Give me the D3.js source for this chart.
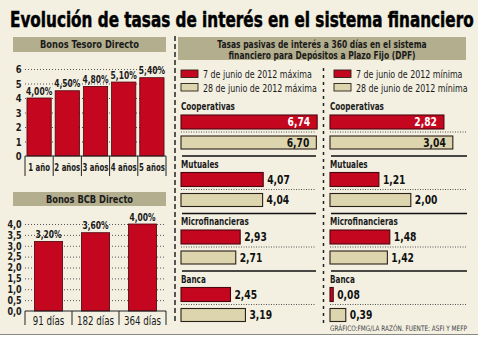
<!DOCTYPE html>
<html>
<head>
<meta charset="utf-8">
<script src="https://cdn.jsdelivr.net/npm/d3@7"></script>
<style>
  html, body { margin: 0; padding: 0; background: #fff; }
  svg { display: block; }
  text { font-family: "DejaVu Sans Condensed", "Liberation Sans Narrow", sans-serif; fill: #1a1a1a; }
</style>
</head>
<body>
<div id="chart-area"></div>
<script>
// Bonos Tesoro Directo
const tesoroPlazos = ["1 año", "2 años", "3 años", "4 años", "5 años"];
const tesoroTasas = [4.00, 4.50, 4.80, 5.10, 5.40];
const tesoroTicks = [0, 1, 2, 3, 4, 5, 6];

// Bonos BCB Directo
const bcbPlazos = ["91 días", "182 días", "364 días"];
const bcbTasas = [3.20, 3.60, 4.00];
const bcbTicks = [0, 0.5, 1, 1.5, 2, 2.5, 3, 3.5, 4];

// Tasas pasivas DPF a 360 días
const entidades = ["Cooperativas", "Mutuales", "Microfinancieras", "Banca"];
const max7jun = [6.74, 4.07, 2.93, 2.45];
const max28jun = [6.70, 4.04, 2.71, 3.19];
const min7jun = [2.82, 1.21, 1.48, 0.08];
const min28jun = [3.04, 2.00, 1.42, 0.39];

const width = 478;
const height = 339;
const rojo = "#c4061f";
const crema = "#ddd5ae";
const banda = "#b3ae8d";
const fondo = "#f3f0e2";

const es = d3.formatLocale({decimal: ",", thousands: ".", grouping: [3], currency: ["", ""]});
const f2 = es.format(".2f");
const f1 = es.format(".1f");

const svg = d3.select('#chart-area')
  .append('svg')
  .attr('width', width)
  .attr('height', height);

// texts are squeezed horizontally to get a condensed face
function tr(x, y, sx) {
  return `translate(${x},${y}) scale(${sx},1)`;
}
function label(g, str, x, y, size, weight, sx, anchor) {
  return g.append('text').text(str)
    .attr('transform', tr(x, y, sx))
    .attr('text-anchor', anchor || 'start')
    .attr('font-size', size + 'px')
    .attr('font-weight', weight);
}

svg.append('rect').attr('width', width).attr('height', 334).attr('fill', fondo);
svg.append('line')
  .attr('x1', 0).attr('x2', width).attr('y1', 334.5).attr('y2', 334.5)
  .attr('stroke', '#8a8a84').attr('stroke-width', 1);

const titulo = label(svg, 'Evolución de tasas de interés en el sistema financiero', 10, 27, 21.5, 'bold', 1)
  .style('fill', '#000')
  .attr('stroke', '#000').attr('stroke-width', 0.5);
titulo.attr('transform', tr(10, 27, 464 / titulo.node().getComputedTextLength()));

// header bands
function header(x, y, w, h, lines, size, sx) {
  svg.append('rect').attr('x', x).attr('y', y).attr('width', w).attr('height', h).attr('fill', banda);
  lines.forEach((l, i) => label(svg, l, x + w / 2, y + 11 + i * 10.5, size, 'bold', sx, 'middle'));
}
header(13, 37, 153, 15, ['Bonos  Tesoro Directo'], 10.5, 0.88);
header(13, 192, 153, 14, ['Bonos BCB Directo'], 10.5, 0.88);
header(178, 37, 288, 23, ['Tasas pasivas de interés a 360 días en el sistema',
                          'financiero para Depósitos a Plazo Fijo (DPF)'], 10, 0.84);

// dashed separators
svg.append('line').attr('x1', 175).attr('x2', 175).attr('y1', 36).attr('y2', 323)
  .attr('stroke', '#222').attr('stroke-width', 1.5).attr('stroke-dasharray', '5,3');
svg.append('line').attr('x1', 323.5).attr('x2', 323.5).attr('y1', 68).attr('y2', 323)
  .attr('stroke', '#222').attr('stroke-width', 1.5).attr('stroke-dasharray', '3,4');

// vertical bar charts on the left
function columnas(opts) {
  const g = svg.append('g');
  const x = d3.scaleBand().domain(opts.plazos).range([25, 166]).paddingInner(opts.pad).paddingOuter(opts.pad / 2);
  const y = d3.scaleLinear().domain(opts.domain).range(opts.range);

  const yAxis = d3.axisLeft(y)
    .tickValues(opts.ticks)
    .tickSize(-141)
    .tickPadding(4)
    .tickFormat(opts.fmt);
  const ax = g.append('g').attr('transform', 'translate(25,0)').call(yAxis);
  ax.select('.domain').remove();
  ax.selectAll('line')
    .attr('stroke', '#555').attr('stroke-dasharray', '1,2')
    .attr('opacity', d => d === 0 ? 0 : 1);
  ax.selectAll('text')
    .attr('font-size', opts.tickSize).attr('font-weight', 'bold')
    .attr('transform', 'scale(0.85,1)')
    .style('font-family', '"DejaVu Sans Condensed", sans-serif');

  g.selectAll('rect.bar')
    .data(opts.tasas)
    .enter().append('rect')
    .attr('class', 'bar')
    .attr('x', (d, i) => x(opts.plazos[i]))
    .attr('width', x.bandwidth())
    .attr('y', d => y(d))
    .attr('height', d => y(0) - y(d))
    .attr('fill', rojo)
    .attr('stroke', '#4a0710').attr('stroke-width', 0.8);

  g.selectAll('text.val')
    .data(opts.tasas)
    .enter().append('text')
    .attr('class', 'val')
    .text(d => f2(d) + '%')
    .attr('transform', (d, i) => tr(x(opts.plazos[i]) + x.bandwidth() / 2, y(d) - 3.5, 0.8))
    .attr('text-anchor', 'middle')
    .attr('font-size', '10.5px').attr('font-weight', 'bold');

  g.append('line')
    .attr('x1', 25).attr('x2', 166).attr('y1', y(0)).attr('y2', y(0))
    .attr('stroke', '#222').attr('stroke-width', 1.2);

  g.selectAll('line.sep')
    .data(d3.range(opts.plazos.length + 1))
    .enter().append('line')
    .attr('class', 'sep')
    .attr('x1', i => 25 + i * 141 / opts.plazos.length)
    .attr('x2', i => 25 + i * 141 / opts.plazos.length)
    .attr('y1', y(0)).attr('y2', y(0) + opts.sepLen)
    .attr('stroke', '#222').attr('stroke-width', 1);

  g.selectAll('text.cat')
    .data(opts.plazos)
    .enter().append('text')
    .attr('class', 'cat')
    .text(d => d)
    .attr('transform', d => tr(x(d) + x.bandwidth() / 2, y(0) + opts.labelDy, opts.catSx))
    .attr('text-anchor', 'middle')
    .attr('font-size', opts.catSize).attr('font-weight', opts.catWeight);
}

columnas({
  plazos: tesoroPlazos, tasas: tesoroTasas, ticks: tesoroTicks,
  domain: [0, 6], range: [156, 69], pad: 0.14,
  fmt: d3.format('d'), tickSize: '11px',
  sepLen: 20, labelDy: 15, catSize: '10.5px', catWeight: 'bold', catSx: 0.74
});

columnas({
  plazos: bcbPlazos, tasas: bcbTasas, ticks: bcbTicks,
  domain: [0, 4], range: [311, 224], pad: 0.4,
  fmt: f1, tickSize: '10.5px',
  sepLen: 14, labelDy: 14, catSize: '11.5px', catWeight: 'normal', catSx: 0.84
});

// horizontal bar panels on the right
const grupo = d3.scaleBand().domain(entidades).range([99, 99 + 57.5 * 4]);

function panel(x0, xEnd, pxPorUnidad, rojos, cremas, leyenda) {
  const g = svg.append('g');
  const x = d3.scaleLinear().domain([0, 1]).range([x0, x0 + pxPorUnidad]);

  // legend
  const lx = x0 + (leyenda.dx || 0);
  [[rojo, leyenda.a], [crema, leyenda.b]].forEach(([c, t], i) => {
    g.append('rect').attr('x', lx).attr('y', 70 + i * 13.5).attr('width', 17).attr('height', 7.5)
      .attr('fill', c).attr('stroke', '#2a2018').attr('stroke-width', 0.9);
    label(g, t, lx + 22, 78 + i * 13.5, 11, 'normal', 0.8);
  });

  const filas = g.selectAll('g.fila')
    .data(entidades)
    .enter().append('g')
    .attr('class', 'fila')
    .attr('transform', d => `translate(0,${grupo(d)})`);

  filas.append('text')
    .text(d => d)
    .attr('transform', tr(x0, 11, 0.77))
    .attr('font-size', '10.5px').attr('font-weight', 'bold');

  filas.append('line')
    .attr('x1', x0).attr('x2', xEnd).attr('y1', 33).attr('y2', 33)
    .attr('stroke', '#555').attr('stroke-dasharray', '1,1.5');

  filas.filter((d, i) => i < entidades.length - 1)
    .append('line')
    .attr('x1', x0 + 1).attr('x2', xEnd).attr('y1', 57).attr('y2', 57)
    .attr('stroke', '#111').attr('stroke-width', 1.6);

  const barras = [
    {vals: rojos, y: 16, h: 14, fill: rojo, stroke: '#4a0710', ink: '#fff'},
    {vals: cremas, y: 37, h: 13, fill: crema, stroke: '#2a2018', ink: '#111'}
  ];

  barras.forEach(b => {
    filas.append('rect')
      .attr('x', x(0)).attr('y', b.y)
      .attr('width', (d, i) => x(b.vals[i]) - x(0))
      .attr('height', b.h)
      .attr('fill', b.fill)
      .attr('stroke', b.stroke).attr('stroke-width', 1.1);

    filas.append('text')
      .text((d, i) => f2(b.vals[i]))
      .attr('transform', (d, i) => tr(i === 0 ? x(b.vals[i]) - 7 : x(b.vals[i]) + 4, b.y + b.h / 2 + 4.3, 0.85))
      .attr('text-anchor', (d, i) => i === 0 ? 'end' : 'start')
      .attr('font-size', '12px').attr('font-weight', 'bold')
      .style('fill', (d, i) => i === 0 ? b.ink : '#111');
  });
}

panel(181, 316, 20.2, max7jun, max28jun,
  {a: '7 de junio de 2012 máxima', b: '28 de junio de 2012 máxima'});
panel(330, 467, 40.4, min7jun, min28jun,
  {a: '7 de junio de 2012 mínima', b: '28 de junio de 2012 mínima', dx: 4});

const pie = label(svg, 'GRÁFICO:FMG/LA RAZÓN. FUENTE: ASFI  Y MEFP', 330, 331, 7.5, 'normal', 1)
  .style('fill', '#444');
pie.attr('transform', tr(330, 331, 137 / pie.node().getComputedTextLength()));
</script>
</body>
</html>
